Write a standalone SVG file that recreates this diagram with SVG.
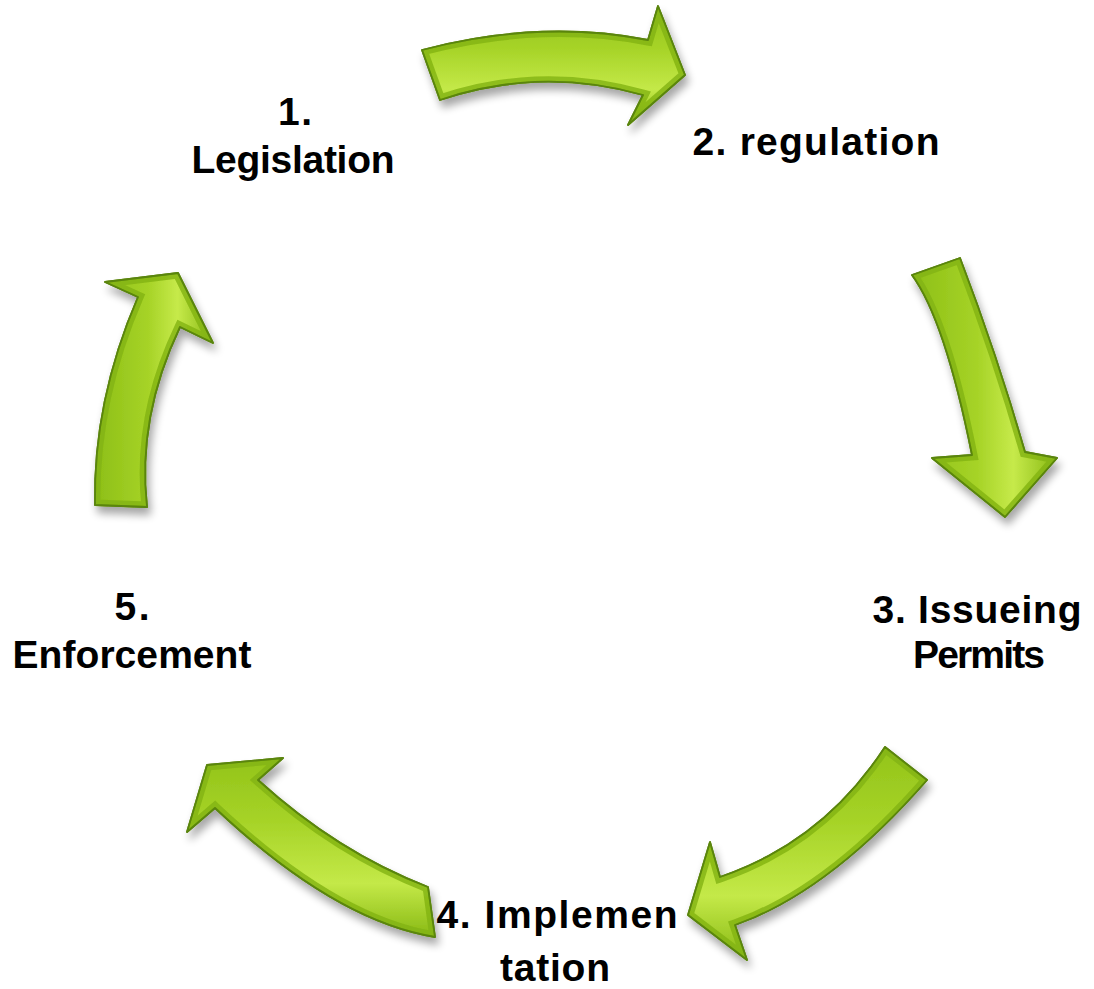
<svg xmlns="http://www.w3.org/2000/svg" xmlns:xlink="http://www.w3.org/1999/xlink" width="1094" height="989" viewBox="0 0 1094 989">
<style>
.lbl{font-family:"Liberation Sans",Arial,sans-serif;font-weight:bold;font-size:39px;fill:#000;text-anchor:middle}
.arr{stroke:#5a850a;stroke-width:1.8;stroke-linejoin:round}
.bev{fill:none;stroke:#82b312;stroke-width:11;stroke-opacity:0.8}
</style>
<defs>
<linearGradient id="gV" x1="0" y1="0" x2="0" y2="1">
<stop offset="0" stop-color="#93c41a"/>
<stop offset="0.35" stop-color="#a6d327"/>
<stop offset="0.7" stop-color="#c4e948"/>
<stop offset="1" stop-color="#88b914"/>
</linearGradient>
<linearGradient id="gH" x1="0" y1="0" x2="1" y2="0">
<stop offset="0" stop-color="#8dbf17"/>
<stop offset="0.45" stop-color="#a6d327"/>
<stop offset="0.7" stop-color="#c6ea4a"/>
<stop offset="1" stop-color="#88b914"/>
</linearGradient>
<filter id="sh" x="-20%" y="-20%" width="140%" height="150%">
<feGaussianBlur in="SourceAlpha" stdDeviation="4"/>
<feOffset dx="3" dy="7" result="b"/>
<feComponentTransfer><feFuncA type="linear" slope="0.35"/></feComponentTransfer>
<feMerge><feMergeNode/><feMergeNode in="SourceGraphic"/></feMerge>
</filter>
<path id="a1" d="M422,50 Q540,19 648,40 L658,6 L685,75 L628,125 L643,95 Q540,66 440,100 Z"/>
<path id="a2" d="M912,275 Q945,320 972,455 L932,458 L1005,517 L1057,458 L1025,452 Q997,355 960,258 Z"/>
<path id="a3" d="M885,747 Q823,842 720,877 L710,842 L688,915 L747,960 L735,925 Q829,892 927,780 Z"/>
<path id="a4" d="M207,765 L283,758 L258,780 Q337,852 428,887 L435,937 Q335,921 215,808 L187,832 Z"/>
<path id="a5" d="M95,505 Q93,401 138,297 L105,282 L178,273 L213,343 L180,327 Q137,417 147,507 Z"/>
<clipPath id="c1"><use xlink:href="#a1"/></clipPath>
<clipPath id="c2"><use xlink:href="#a2"/></clipPath>
<clipPath id="c3"><use xlink:href="#a3"/></clipPath>
<clipPath id="c4"><use xlink:href="#a4"/></clipPath>
<clipPath id="c5"><use xlink:href="#a5"/></clipPath>
</defs>
<rect width="1094" height="989" fill="#fff"/>
<g id="connectors">
<g id="arrow1-2" filter="url(#sh)"><use xlink:href="#a1" fill="url(#gV)" class="arr"/><use xlink:href="#a1" class="bev" clip-path="url(#c1)"/><use xlink:href="#a1" fill="none" class="arr"/></g>
<g id="arrow2-3" filter="url(#sh)"><use xlink:href="#a2" fill="url(#gH)" class="arr"/><use xlink:href="#a2" class="bev" clip-path="url(#c2)"/><use xlink:href="#a2" fill="none" class="arr"/></g>
<g id="arrow3-4" filter="url(#sh)"><use xlink:href="#a3" fill="url(#gV)" class="arr"/><use xlink:href="#a3" class="bev" clip-path="url(#c3)"/><use xlink:href="#a3" fill="none" class="arr"/></g>
<g id="arrow4-5" filter="url(#sh)"><use xlink:href="#a4" fill="url(#gV)" class="arr"/><use xlink:href="#a4" class="bev" clip-path="url(#c4)"/><use xlink:href="#a4" fill="none" class="arr"/></g>
<g id="arrow5-1" filter="url(#sh)"><use xlink:href="#a5" fill="url(#gH)" class="arr"/><use xlink:href="#a5" class="bev" clip-path="url(#c5)"/><use xlink:href="#a5" fill="none" class="arr"/></g>
</g>
<g id="node1"><text class="lbl" x="295" y="125" textLength="34">1.</text><text class="lbl" x="293" y="173" textLength="203">Legislation</text></g>
<g id="node2"><text class="lbl" x="816" y="155" textLength="247">2. regulation</text></g>
<g id="node3"><text class="lbl" x="977" y="623" textLength="209">3. Issueing</text><text class="lbl" x="979" y="668" textLength="132">Permits</text></g>
<g id="node4"><text class="lbl" x="557" y="928" textLength="241">4. Implemen</text><text class="lbl" x="555" y="981" textLength="110">tation</text></g>
<g id="node5"><text class="lbl" x="132" y="620" textLength="35">5.</text><text class="lbl" x="132" y="668" textLength="239">Enforcement</text></g>
</svg>
